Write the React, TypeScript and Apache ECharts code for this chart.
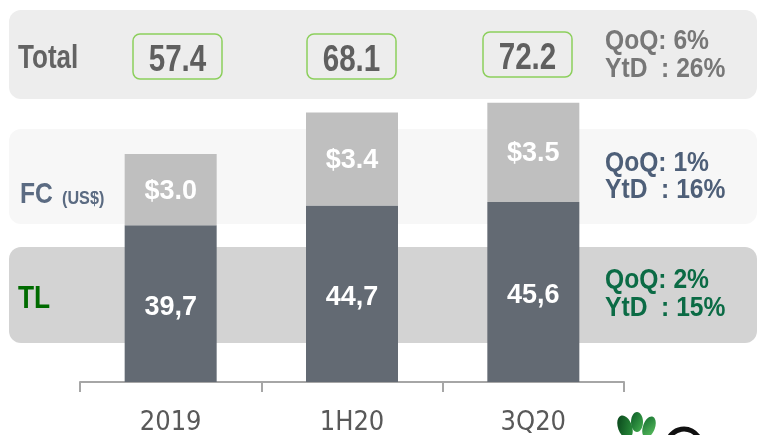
import React, { useEffect, useRef } from "react";
import * as echarts from "echarts";

const categories = ["2019", "1H20", "3Q20"];
const tlValues = [39.7, 44.7, 45.6];
const fcHeightTL = [18.0, 23.5, 25.1];
const fcUsd = [3.0, 3.4, 3.5];
const totals = ["57.4", "68.1", "72.2"];
const totalGrowth = ["QoQ: 6%", "YtD  : 26%"];
const fcGrowth = ["QoQ: 1%", "YtD  : 16%"];
const tlGrowth = ["QoQ: 2%", "YtD  : 15%"];

const SANS = "'Liberation Sans', Arial, sans-serif";

export default function App() {
  const ref = useRef<HTMLDivElement>(null);
  useEffect(() => {
    if (!ref.current) return;
    const chart = echarts.init(ref.current, null, { renderer: "svg" });
    const txt = (text: string, x: number, y: number, size: number, fill: string, sx = 0.85, align = "left") => ({
      type: "text",
      z: 100,
      x,
      y,
      scaleX: sx,
      style: { text, x: 0, y: 0, font: `bold ${size}px ${SANS}`, fill, align, verticalAlign: "middle" },
    });
    const boxes = [
      [133, 34],
      [307, 34],
      [483, 32],
    ];
    const graphic: any[] = [
      { type: "rect", z: -10, shape: { x: 9, y: 10, width: 748, height: 89, r: 12 }, style: { fill: "#ededed" } },
      { type: "rect", z: -10, shape: { x: 9, y: 129, width: 748, height: 95, r: 12 }, style: { fill: "#f7f7f7" } },
      { type: "rect", z: -10, shape: { x: 9, y: 247, width: 748, height: 96, r: 12 }, style: { fill: "#d3d3d3" } },
      txt("Total", 18, 56, 33, "#636363", 0.79),
      txt("FC", 20, 193, 29, "#5b6b82", 0.85),
      txt("(US$)", 62, 198, 18, "#5b6b82", 0.9),
      txt("TL", 18, 297, 31, "#006b00", 0.85),
      txt(totalGrowth[0], 605, 39, 28, "#777777", 0.88),
      txt(totalGrowth[1], 605, 67, 28, "#777777", 0.88),
      txt(fcGrowth[0], 605, 161, 28, "#4e5f78", 0.88),
      txt(fcGrowth[1], 605, 188, 28, "#4e5f78", 0.88),
      txt(tlGrowth[0], 605, 278, 28, "#0b6b45", 0.88),
      txt(tlGrowth[1], 605, 306, 28, "#0b6b45", 0.88),
      ...boxes.map(([x, y]) => ({
        type: "rect",
        z: 100,
        shape: { x, y, width: 89, height: 45, r: 7 },
        style: { fill: "none", stroke: "#8ccf5c", lineWidth: 1.5 },
      })),
      ...boxes.map(([x, y], i) => txt(totals[i], x + 44.5, y + 24, 37, "#5f5f5f", 0.8, "center")),
      // logo
      {
        type: "ellipse", z: 100, x: 625, y: 427, rotation: 0.35,
        shape: { cx: 0, cy: 0, rx: 7, ry: 12 },
        style: { fill: new echarts.graphic.LinearGradient(0, 0, 1, 1, [{ offset: 0, color: "#063d18" }, { offset: 1, color: "#2f9a40" }]) },
      },
      {
        type: "ellipse", z: 101, x: 637, y: 422, rotation: 0,
        shape: { cx: 0, cy: 0, rx: 6, ry: 10 },
        style: { fill: new echarts.graphic.LinearGradient(0, 0, 1, 1, [{ offset: 0, color: "#0b5a26" }, { offset: 1, color: "#45b150" }]) },
      },
      {
        type: "ellipse", z: 100, x: 649, y: 427, rotation: -0.35,
        shape: { cx: 0, cy: 0, rx: 6, ry: 11 },
        style: { fill: new echarts.graphic.LinearGradient(0, 0, 1, 1, [{ offset: 0, color: "#157030" }, { offset: 1, color: "#5cc060" }]) },
      },
      {
        type: "arc", z: 100,
        shape: { cx: 684, cy: 446, r: 17, startAngle: Math.PI * 1.05, endAngle: Math.PI * 1.85 },
        style: { stroke: "#111111", lineWidth: 5, fill: "none" },
      },
    ];
    chart.setOption({
      animation: false,
      grid: { left: 80, right: 133, top: 66, bottom: 53 },
      xAxis: {
        type: "category",
        data: categories,
        axisLine: { show: true, lineStyle: { color: "#a6a6a6", width: 2 } },
        axisTick: { show: true, interval: 0, alignWithLabel: false, length: 10, lineStyle: { color: "#a6a6a6", width: 2 } },
        axisLabel: { color: "#595959", fontSize: 27, lineHeight: 26, margin: 25, fontFamily: "'DejaVu Sans Condensed', sans-serif" },
      },
      yAxis: { type: "value", min: 0, max: 80, show: false, splitLine: { show: false } },
      series: [
        {
          type: "bar",
          stack: "a",
          barWidth: 92,
          data: tlValues,
          itemStyle: { color: "#636a73" },
          label: {
            show: true,
            position: "inside",
            offset: [0, 2],
            formatter: (p: any) => tlValues[p.dataIndex].toFixed(1).replace(".", ","),
            color: "#ffffff",
            fontSize: 27,
            fontWeight: "bold",
            fontFamily: SANS,
          },
        },
        {
          type: "bar",
          stack: "a",
          barWidth: 92,
          data: fcHeightTL,
          itemStyle: { color: "#bfbfbf" },
          label: {
            show: true,
            position: "inside",
            formatter: (p: any) => "$" + fcUsd[p.dataIndex].toFixed(1),
            color: "#ffffff",
            fontSize: 27,
            fontWeight: "bold",
            fontFamily: SANS,
          },
        },
      ],
      graphic,
    });
    return () => chart.dispose();
  }, []);
  return <div ref={ref} style={{ position: "fixed", left: 0, top: 0, width: 757, height: 435 }} />;
}
